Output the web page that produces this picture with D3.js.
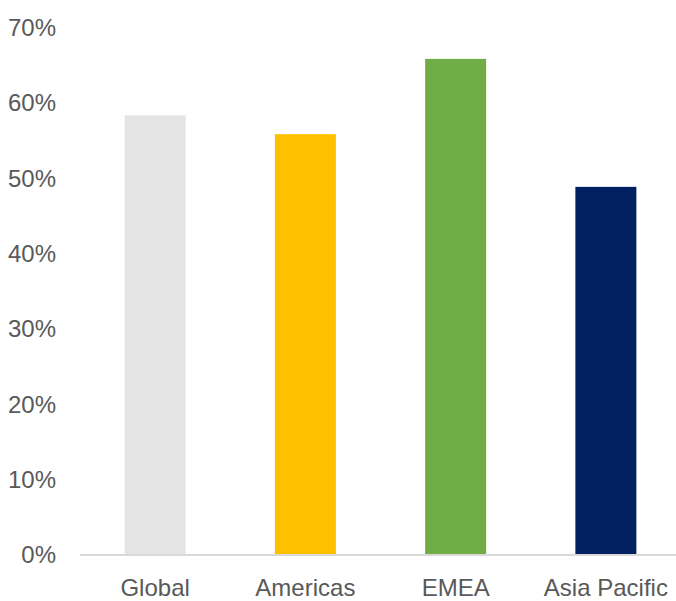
<!DOCTYPE html>
<html>
<head>
<meta charset="utf-8">
<script src="https://cdn.jsdelivr.net/npm/d3@7"></script>
<style>
  html, body { margin: 0; padding: 0; background: #ffffff; }
  svg { display: block; }
</style>
</head>
<body>
<svg id="chart" width="676" height="601"></svg>
<script>
const categories = ["Global", "Americas", "EMEA", "Asia Pacific"];
const values = [0.584, 0.559, 0.659, 0.489];
const colors = ["#e4e4e4", "#ffc000", "#70ad47", "#002060"];
const yTicks = [0, 0.1, 0.2, 0.3, 0.4, 0.5, 0.6, 0.7];

const svg = d3.select("#chart");
const margin = { left: 80, right: -5, top: 28, bottom: 46 };
const W = 676, H = 601;

const x = d3.scaleBand()
  .domain(categories)
  .range([margin.left, W - margin.right])
  .paddingInner(0.594)
  .paddingOuter(0.297);

const y = d3.scaleLinear()
  .domain([0, 0.7])
  .range([H - margin.bottom, margin.top]);

const font = "'Liberation Sans', Arial, sans-serif";

// bars
svg.append("g").selectAll("rect")
  .data(categories)
  .join("rect")
  .attr("x", d => x(d))
  .attr("width", x.bandwidth())
  .attr("y", (d, i) => y(values[i]))
  .attr("height", (d, i) => y(0) - y(values[i]))
  .attr("fill", (d, i) => colors[i]);

// y axis labels
const yAxis = d3.axisLeft(y)
  .tickValues(yTicks)
  .tickFormat(d3.format(".0%"))
  .tickSize(0)
  .tickPadding(0);
const gy = svg.append("g")
  .attr("transform", `translate(56,0)`)
  .call(yAxis);
gy.select(".domain").remove();
gy.selectAll("text")
  .attr("fill", "#595959")
  .style("font-family", font)
  .style("font-size", "24px");

// x axis
const xAxis = d3.axisBottom(x).tickSize(0).tickPadding(24);
const gx = svg.append("g")
  .attr("transform", `translate(0,${y(0)})`)
  .call(xAxis);
gx.select(".domain")
  .attr("stroke", "#d9d9d9")
  .attr("stroke-width", 2)
  .attr("d", `M${margin.left},0H${W}`);
gx.selectAll("text")
  .attr("fill", "#595959")
  .style("font-family", font)
  .style("font-size", "24px");
</script>
</body>
</html>
